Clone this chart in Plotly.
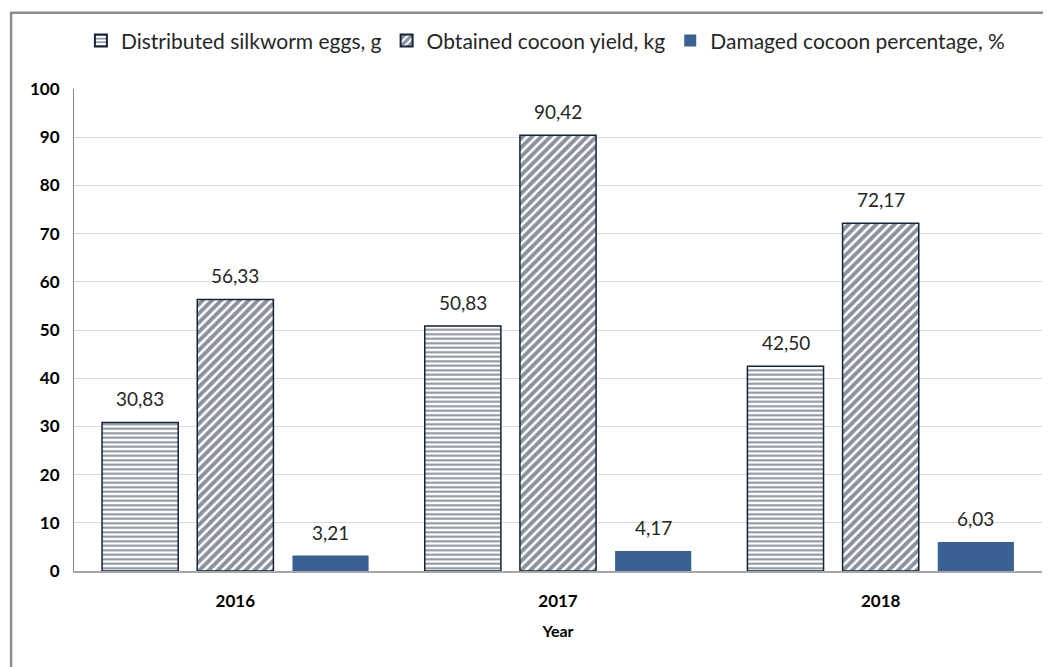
import plotly.graph_objects as go

years = ["2016", "2017", "2018"]
eggs = [30.83, 50.83, 42.50]
cocoon = [56.33, 90.42, 72.17]
damaged = [3.21, 4.17, 6.03]
series_names = ["Distributed silkworm eggs, g", "Obtained cocoon yield, kg", "Damaged cocoon percentage, %"]

FONT = "Lato"
navy = "#14233a"
blue = "#3a6194"

def lbl(v):
    return f"{v:.2f}".replace(".", ",")

fig = go.Figure()
fig.add_trace(go.Bar(
    x=years, y=eggs, name=series_names[0],
    marker=dict(color="white", line=dict(color=navy, width=1.5),
                pattern=dict(shape="-", fgcolor=navy, bgcolor="white", size=4.5, solidity=0.45)),
))
fig.add_trace(go.Bar(
    x=years, y=cocoon, name=series_names[1],
    marker=dict(color="white", line=dict(color=navy, width=1.5),
                pattern=dict(shape="/", fgcolor=navy, bgcolor="white", size=6.5, solidity=0.6)),
))
fig.add_trace(go.Bar(
    x=years, y=damaged, name=series_names[2],
    marker=dict(color=blue, line=dict(color=blue, width=0)),
))

# data labels above bars (offset per series within group); x given as category index
offsets = [-95, 0, 95]
annotations = []
for series, dx in zip([eggs, cocoon, damaged], offsets):
    for i, v in enumerate(series):
        annotations.append(dict(x=i, y=v, xref="x", yref="y", text=lbl(v), showarrow=False,
                                xshift=dx, yshift=10, yanchor="bottom",
                                font=dict(family=FONT, size=19, color="#262626")))

fig.update_layout(
    width=1051, height=667,
    margin=dict(l=66, r=17, t=79, b=104),
    paper_bgcolor="white", plot_bgcolor="white",
    barmode="group", bargap=0.115, bargroupgap=0.2,
    font=dict(family=FONT, size=16, color="#000000"),
    showlegend=True,
    legend=dict(orientation="h", x=0.487, xanchor="center", y=1.1, yanchor="middle",
                font=dict(family=FONT, size=21, color="#262626"),
                itemwidth=30, tracegroupgap=0, itemsizing="constant"),
    annotations=annotations,
    xaxis=dict(type="category", range=[-0.5, len(years) - 0.5], showline=True, linecolor="#a6a6a6",
               linewidth=1.5, ticks="", ticklabelstandoff=14,
               tickfont=dict(family=FONT, size=17, color="#000000", weight="bold"),
               title=dict(text="<b>Year</b>", font=dict(family=FONT, size=16, color="#000000"), standoff=16)),
    yaxis=dict(range=[0, 100], dtick=10, showline=True, linecolor="#868686", linewidth=1,
               gridcolor="#d9d9d9", gridwidth=1, zeroline=False, ticks="",
               tickfont=dict(family=FONT, size=17, color="#000000", weight="bold"), ticklabelstandoff=10),
    shapes=[dict(type="rect", xref="paper", yref="paper", x0=-0.065, x1=1.2, y0=-0.5, y1=1.158,
                 line=dict(color="#8c8c8c", width=2.5), fillcolor="rgba(0,0,0,0)", layer="below")],
)

fig.write_html("out.html")
